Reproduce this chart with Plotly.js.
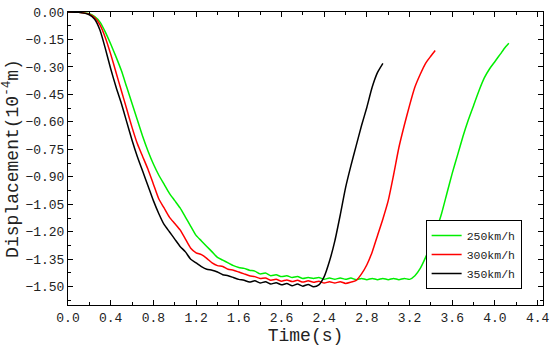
<!DOCTYPE html>
<html>
<head>
<meta charset="utf-8">
<script src="https://cdn.plot.ly/plotly-3.0.1.min.js"></script>
<style>html,body{margin:0;padding:0;background:#fff}#chart{width:550px;height:352px}</style>
</head>
<body>
<div id="chart"></div>
<script>
const seriesNames = ["250km/h", "300km/h", "350km/h"];
const seriesColors = ["#00ee00", "#ff0000", "#000000"];

const t250 = [0,0.1,0.2,0.25,0.3,0.35,0.4,0.45,0.5,0.55,0.6,0.65,0.7,0.75,0.8,0.85,0.9,0.95,1.0,1.05,1.1,1.15,1.2,1.25,1.3,1.35,1.4,1.45,1.5,1.55,1.6,1.65,1.7,1.75,1.8,1.85,1.9,1.95,2.0,2.05,2.1,2.15,2.2,2.25,2.3,2.35,2.4,2.45,2.5,2.55,2.6,2.65,2.7,2.75,2.8,2.85,2.9,2.95,3.0,3.05,3.1,3.15,3.2,3.25,3.3,3.35,3.4,3.45,3.5,3.55,3.6,3.65,3.7,3.75,3.8,3.85,3.9,3.95,4.0,4.05,4.1,4.13];
const d250 = [0,-0.002,-0.01,-0.025,-0.055,-0.11,-0.175,-0.245,-0.32,-0.41,-0.50,-0.59,-0.68,-0.76,-0.83,-0.89,-0.94,-0.99,-1.03,-1.07,-1.12,-1.17,-1.22,-1.25,-1.28,-1.31,-1.34,-1.355,-1.37,-1.385,-1.395,-1.40,-1.41,-1.415,-1.43,-1.425,-1.44,-1.435,-1.445,-1.44,-1.45,-1.445,-1.455,-1.45,-1.455,-1.45,-1.46,-1.452,-1.46,-1.452,-1.46,-1.453,-1.462,-1.455,-1.462,-1.455,-1.462,-1.455,-1.462,-1.455,-1.462,-1.455,-1.46,-1.44,-1.40,-1.34,-1.27,-1.19,-1.10,-0.99,-0.88,-0.78,-0.68,-0.59,-0.51,-0.43,-0.36,-0.31,-0.27,-0.23,-0.19,-0.17];

const t300 = [0,0.1,0.2,0.25,0.3,0.35,0.4,0.45,0.5,0.55,0.6,0.65,0.7,0.75,0.8,0.85,0.9,0.95,1.0,1.05,1.1,1.15,1.2,1.25,1.3,1.35,1.4,1.45,1.5,1.55,1.6,1.65,1.7,1.75,1.8,1.85,1.9,1.95,2.0,2.05,2.1,2.15,2.2,2.25,2.3,2.35,2.4,2.45,2.5,2.55,2.6,2.65,2.7,2.75,2.8,2.85,2.9,2.95,3.0,3.05,3.1,3.15,3.2,3.25,3.3,3.35,3.4,3.44];
const d300 = [0,-0.002,-0.012,-0.03,-0.07,-0.14,-0.23,-0.33,-0.43,-0.53,-0.63,-0.72,-0.79,-0.86,-0.94,-1.02,-1.07,-1.12,-1.155,-1.19,-1.24,-1.29,-1.315,-1.325,-1.345,-1.37,-1.385,-1.39,-1.405,-1.41,-1.42,-1.43,-1.44,-1.445,-1.455,-1.452,-1.465,-1.46,-1.47,-1.463,-1.472,-1.465,-1.475,-1.468,-1.476,-1.47,-1.48,-1.473,-1.48,-1.473,-1.482,-1.475,-1.465,-1.43,-1.38,-1.31,-1.22,-1.13,-1.03,-0.89,-0.74,-0.62,-0.51,-0.41,-0.34,-0.28,-0.24,-0.21];

const t350 = [0,0.1,0.2,0.25,0.3,0.35,0.4,0.45,0.5,0.55,0.6,0.65,0.7,0.75,0.8,0.85,0.9,0.95,1.0,1.05,1.1,1.15,1.2,1.25,1.3,1.35,1.4,1.45,1.5,1.55,1.6,1.65,1.7,1.75,1.8,1.85,1.9,1.95,2.0,2.05,2.1,2.15,2.2,2.25,2.3,2.35,2.4,2.45,2.5,2.55,2.6,2.65,2.7,2.75,2.8,2.85,2.9,2.95];
const d350 = [0,-0.002,-0.015,-0.04,-0.10,-0.20,-0.31,-0.41,-0.50,-0.60,-0.70,-0.79,-0.87,-0.95,-1.03,-1.10,-1.16,-1.20,-1.24,-1.28,-1.31,-1.35,-1.37,-1.39,-1.405,-1.41,-1.42,-1.435,-1.44,-1.45,-1.46,-1.465,-1.475,-1.468,-1.48,-1.473,-1.486,-1.478,-1.49,-1.483,-1.495,-1.485,-1.497,-1.488,-1.5,-1.49,-1.445,-1.36,-1.25,-1.11,-0.96,-0.84,-0.73,-0.62,-0.52,-0.41,-0.33,-0.28];

const xTickVals = [0,0.4,0.8,1.2,1.6,2.0,2.4,2.8,3.2,3.6,4.0,4.4];
const xTickText = ["0.0","0.4","0.8","1.2","1.6","2.6","2.4","2.8","3.2","3.6","4.0","4.4"];
const yTickVals = [0,-0.15,-0.30,-0.45,-0.60,-0.75,-0.90,-1.05,-1.20,-1.35,-1.50];

const xs = [t250, t300, t350];
const ys = [d250, d300, d350];
const traces = xs.map((x, i) => ({
  x: x, y: ys[i], type: "scatter", mode: "lines", name: seriesNames[i],
  line: {color: seriesColors[i], width: 1.5, shape: "spline", smoothing: 0.6}
}));

const fontFam = "Liberation Mono, Courier New, monospace";
const layout = {
  width: 550, height: 352,
  margin: {l: 68, r: 7, t: 12, b: 47},
  paper_bgcolor: "#fff", plot_bgcolor: "#fff",
  showlegend: true,
  legend: {x: 0.955, xanchor: "right", y: 0.055, yanchor: "bottom",
    bgcolor: "#fff", bordercolor: "#000", borderwidth: 1,
    font: {family: fontFam, size: 11.5, color: "#222"},
    tracegroupgap: 0, itemwidth: 30},
  xaxis: {
    range: [0, 4.45], tickmode: "array", tickvals: xTickVals, ticktext: xTickText,
    ticks: "inside", ticklen: 5, tickcolor: "#000", showline: true, linecolor: "#000", linewidth: 1,
    mirror: "allticks", showgrid: false, zeroline: false,
    tickfont: {family: fontFam, size: 13, color: "#222"},
    minor: {tickmode: "linear", tick0: 0, dtick: 0.2, ticks: "inside", ticklen: 3, tickcolor: "#000", showgrid: false},
    title: {text: "Time(s)", font: {family: fontFam, size: 18, color: "#222"}, standoff: 2}
  },
  yaxis: {
    range: [-1.6, 0], tickmode: "array", tickvals: yTickVals, tickformat: ".2f",
    ticks: "inside", ticklen: 5, tickcolor: "#000", showline: true, linecolor: "#000", linewidth: 1,
    mirror: "allticks", showgrid: false, zeroline: false,
    tickfont: {family: fontFam, size: 13, color: "#222"},
    minor: {tickmode: "linear", tick0: 0, dtick: 0.075, ticks: "inside", ticklen: 3, tickcolor: "#000", showgrid: false},
    title: {text: "Displacement(10<sup>-4</sup>m)", font: {family: fontFam, size: 18, color: "#222"}, standoff: 6}
  }
};
Plotly.newPlot("chart", traces, layout, {displayModeBar: false, staticPlot: true});
</script>
</body>
</html>
